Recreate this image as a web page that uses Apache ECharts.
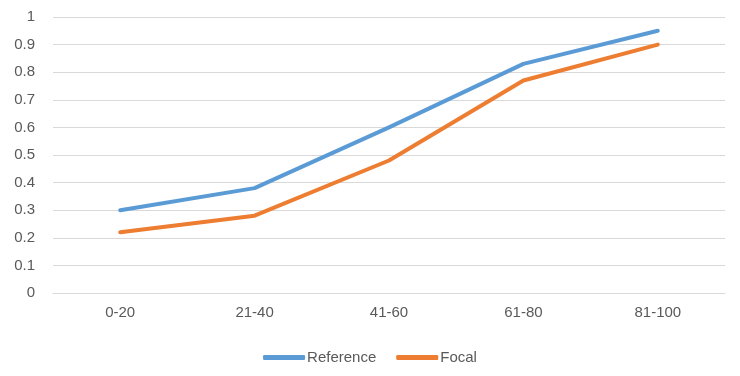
<!DOCTYPE html>
<html>
<head>
<meta charset="utf-8">
<script src="https://cdn.jsdelivr.net/npm/echarts@6/dist/echarts.min.js"></script>
<style>
  html, body { margin: 0; padding: 0; background: #fff; }
  #chart { width: 740px; height: 376px; }
</style>
</head>
<body>
<div id="chart"></div>
<script>
// 数据
const categories = ['0-20', '21-40', '41-60', '61-80', '81-100'];
const referenceValues = [0.30, 0.38, 0.60, 0.83, 0.95];
const focalValues = [0.22, 0.28, 0.48, 0.77, 0.90];

const BLUE = '#5b9bd5';
const ORANGE = '#ed7d31';
const TEXT_COLOR = '#595959';
const GRID_COLOR = '#d9d9d9';
const FONT = 'Liberation Sans, Arial, sans-serif';

const chart = echarts.init(document.getElementById('chart'));

chart.setOption({
  backgroundColor: '#fff',
  animation: false,
  grid: { left: 53, right: 15, top: 17, bottom: 83, containLabel: false },
  legend: {
    bottom: 6,
    left: 'center',
    icon: 'roundRect',
    itemWidth: 42,
    itemHeight: 5,
    itemGap: 20,
    textStyle: { color: TEXT_COLOR, fontSize: 15, fontFamily: FONT, padding: [0, 0, 0, -3] },
    data: ['Reference', 'Focal']
  },
  xAxis: {
    type: 'category',
    data: categories,
    boundaryGap: true,
    axisLine: { show: true, lineStyle: { color: GRID_COLOR, width: 1 } },
    axisTick: { show: false },
    axisLabel: { color: TEXT_COLOR, fontSize: 15, fontFamily: FONT, margin: 12 }
  },
  yAxis: {
    type: 'value',
    min: 0,
    max: 1,
    interval: 0.1,
    axisLine: { show: false },
    axisTick: { show: false },
    axisLabel: {
      color: TEXT_COLOR,
      fontSize: 15,
      fontFamily: FONT,
      margin: 18,
      formatter: (v) => String(Math.round(v * 10) / 10)
    },
    splitLine: { lineStyle: { color: GRID_COLOR, width: 1 } }
  },
  series: [
    {
      name: 'Reference',
      type: 'line',
      data: referenceValues,
      symbol: 'none',
      lineStyle: { color: BLUE, width: 4, cap: 'round', join: 'round' },
      itemStyle: { color: BLUE }
    },
    {
      name: 'Focal',
      type: 'line',
      data: focalValues,
      symbol: 'none',
      lineStyle: { color: ORANGE, width: 4, cap: 'round', join: 'round' },
      itemStyle: { color: ORANGE }
    }
  ]
});
</script>
</body>
</html>
